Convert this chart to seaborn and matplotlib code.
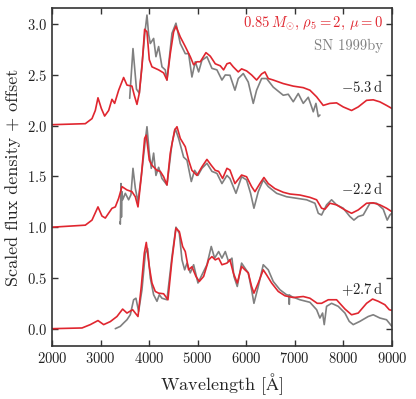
import matplotlib
matplotlib.use('Agg')
import matplotlib.pyplot as plt
import numpy as np
import pandas as pd
import seaborn as sns

# spectra: (wavelength [A], scaled flux), offsets added below
model_m53 = [(2000, 0.01), (2686, 0.02), (2824, 0.07), (2892, 0.15), (2947, 0.275), (3016, 0.17),
             (3084, 0.095), (3167, 0.15), (3235, 0.26), (3290, 0.22), (3373, 0.35), (3475, 0.475),
             (3544, 0.40), (3647, 0.39), (3695, 0.30), (3750, 0.21), (3798, 0.32), (3853, 0.58),
             (3908, 0.95), (3956, 0.925), (4004, 0.65), (4059, 0.58), (4196, 0.55), (4299, 0.52),
             (4368, 0.45), (4436, 0.71), (4505, 0.925), (4553, 0.98), (4642, 0.875), (4745, 0.78),
             (4848, 0.68), (4917, 0.60), (4985, 0.63), (5054, 0.63), (5171, 0.72), (5260, 0.685),
             (5363, 0.61), (5466, 0.59), (5534, 0.55), (5603, 0.61), (5665, 0.62), (5733, 0.58),
             (5836, 0.53), (5905, 0.56), (6008, 0.54), (6111, 0.50), (6214, 0.45), (6317, 0.51),
             (6385, 0.53), (6454, 0.465), (6557, 0.45), (6763, 0.415), (6969, 0.39), (7175, 0.375),
             (7312, 0.35), (7449, 0.285), (7586, 0.20), (7723, 0.22), (7861, 0.225), (7998, 0.185),
             (8170, 0.15), (8307, 0.185), (8479, 0.25), (8616, 0.255), (8753, 0.235), (8890, 0.20),
             (9000, 0.17)]
obs_m53 = [(3600, 0.27), (3668, 0.76), (3740, 0.36), (3798, 0.32), (3853, 0.60), (3910, 0.90),
           (3956, 1.09), (3990, 0.90), (4025, 0.81), (4093, 0.86), (4141, 0.68), (4196, 0.78),
           (4265, 0.58), (4333, 0.55), (4368, 0.45), (4471, 0.91), (4553, 1.01), (4642, 0.81),
           (4745, 0.71), (4814, 0.71), (4882, 0.48), (4951, 0.63), (5020, 0.53), (5088, 0.645),
           (5191, 0.68), (5294, 0.565), (5397, 0.55), (5500, 0.45), (5569, 0.50), (5665, 0.497),
           (5768, 0.35), (5837, 0.465), (5940, 0.514), (6042, 0.43), (6145, 0.22), (6214, 0.35),
           (6317, 0.465), (6420, 0.465), (6557, 0.38), (6763, 0.30), (6866, 0.31), (6969, 0.236),
           (7072, 0.317), (7175, 0.22), (7278, 0.28), (7347, 0.186), (7381, 0.137), (7436, 0.22),
           (7484, 0.09), (7518, 0.105)]

model_m22 = [(2000, 0.0), (2686, 0.02), (2824, 0.07), (2947, 0.20), (3029, 0.11), (3098, 0.09),
             (3235, 0.186), (3304, 0.20), (3373, 0.285), (3441, 0.40), (3544, 0.367), (3647, 0.35),
             (3716, 0.30), (3771, 0.20), (3839, 0.497), (3908, 0.875), (3942, 0.907), (4004, 0.66),
             (4059, 0.61), (4162, 0.56), (4230, 0.55), (4299, 0.497), (4368, 0.416), (4436, 0.73),
             (4526, 0.957), (4574, 0.99), (4642, 0.875), (4745, 0.793), (4814, 0.66), (4882, 0.56),
             (4985, 0.51), (5088, 0.595), (5191, 0.668), (5280, 0.61), (5363, 0.56), (5432, 0.55),
             (5514, 0.48), (5603, 0.58), (5665, 0.563), (5768, 0.43), (5905, 0.514), (6008, 0.497),
             (6111, 0.40), (6180, 0.35), (6282, 0.43), (6365, 0.49), (6454, 0.43), (6591, 0.38),
             (6763, 0.344), (6900, 0.327), (7106, 0.317), (7312, 0.294), (7450, 0.27), (7552, 0.187),
             (7621, 0.177), (7724, 0.236), (7861, 0.22), (8033, 0.17), (8170, 0.137), (8307, 0.17),
             (8479, 0.236), (8616, 0.24), (8753, 0.22), (8890, 0.187), (9000, 0.153)]
obs_m22 = [(3400, 0.05), (3407, 0.03), (3421, 0.43), (3430, 0.10), (3440, 0.35), (3455, 0.27),
           (3510, 0.334), (3578, 0.27), (3626, 0.32), (3668, 0.58), (3716, 0.384), (3771, 0.25),
           (3853, 0.56), (3922, 0.86), (3956, 0.99), (4004, 0.73), (4045, 0.58), (4093, 0.73),
           (4141, 0.51), (4196, 0.59), (4265, 0.48), (4368, 0.416), (4471, 0.825), (4540, 0.97),
           (4608, 0.875), (4711, 0.69), (4780, 0.66), (4869, 0.45), (4937, 0.56), (5006, 0.51),
           (5088, 0.58), (5191, 0.63), (5294, 0.55), (5397, 0.53), (5500, 0.43), (5603, 0.51),
           (5665, 0.48), (5789, 0.334), (5905, 0.497), (6008, 0.465), (6090, 0.334), (6159, 0.187),
           (6248, 0.35), (6351, 0.465), (6454, 0.40), (6626, 0.334), (6832, 0.30), (7038, 0.285),
           (7244, 0.27), (7415, 0.236), (7484, 0.137), (7552, 0.12), (7655, 0.22), (7758, 0.27),
           (7861, 0.22), (7998, 0.187), (8136, 0.105), (8218, 0.07), (8307, 0.105), (8410, 0.12),
           (8548, 0.236), (8685, 0.236), (8822, 0.177), (8904, 0.07), (8959, 0.12), (9000, 0.137)]

model_p27 = [(2000, 0.0), (2618, 0.007), (2789, 0.04), (2947, 0.08), (3064, 0.04), (3201, 0.07),
             (3338, 0.12), (3455, 0.193), (3544, 0.154), (3661, 0.187), (3771, 0.12), (3839, 0.416),
             (3901, 0.744), (3942, 0.85), (4004, 0.61), (4059, 0.45), (4127, 0.367), (4196, 0.35),
             (4299, 0.344), (4388, 0.285), (4471, 0.678), (4553, 0.99), (4622, 0.957), (4690, 0.81),
             (4745, 0.76), (4814, 0.58), (4882, 0.61), (4965, 0.515), (5033, 0.465), (5123, 0.515),
             (5226, 0.678), (5294, 0.71), (5363, 0.678), (5432, 0.695), (5500, 0.63), (5603, 0.646),
             (5665, 0.68), (5734, 0.55), (5816, 0.45), (5905, 0.613), (5974, 0.58), (6042, 0.55),
             (6111, 0.416), (6159, 0.35), (6248, 0.45), (6351, 0.58), (6420, 0.53), (6523, 0.45),
             (6660, 0.367), (6798, 0.324), (6969, 0.307), (7175, 0.317), (7312, 0.30), (7463, 0.25),
             (7552, 0.25), (7690, 0.285), (7861, 0.285), (8033, 0.194), (8170, 0.137), (8307, 0.154),
             (8479, 0.25), (8602, 0.292), (8719, 0.27), (8856, 0.236), (8946, 0.187), (9000, 0.18)]
obs_p27 = [(3304, 0.0), (3407, 0.023), (3475, 0.056), (3544, 0.088), (3613, 0.138), (3681, 0.285),
           (3729, 0.30), (3784, 0.17), (3853, 0.384), (3922, 0.744), (3970, 0.79), (4025, 0.50),
           (4093, 0.334), (4162, 0.27), (4210, 0.334), (4265, 0.30), (4368, 0.285), (4471, 0.71),
           (4553, 1.0), (4622, 0.94), (4677, 0.678), (4732, 0.58), (4780, 0.646), (4848, 0.55),
           (4917, 0.63), (5006, 0.45), (5088, 0.53), (5191, 0.63), (5280, 0.81), (5349, 0.695),
           (5432, 0.76), (5500, 0.695), (5569, 0.76), (5637, 0.66), (5706, 0.695), (5747, 0.515),
           (5816, 0.416), (5905, 0.646), (5974, 0.597), (6042, 0.55), (6111, 0.384), (6159, 0.25),
           (6248, 0.416), (6351, 0.63), (6454, 0.58), (6557, 0.465), (6694, 0.384), (6832, 0.334),
           (6880, 0.33), (6887, 0.24), (6895, 0.33), (6935, 0.317), (7106, 0.285), (7312, 0.26),
           (7450, 0.187), (7518, 0.105), (7573, 0.154), (7607, 0.04), (7655, 0.22), (7758, 0.25),
           (7895, 0.22), (8033, 0.154), (8122, 0.072), (8204, 0.04), (8341, 0.072), (8513, 0.12),
           (8616, 0.137), (8753, 0.105), (8890, 0.088), (9000, 0.023)]

phases = [r'$-5.3\,$d', r'$-2.2\,$d', r'$+2.7\,$d']
offsets = [2.0, 1.0, 0.0]
label_y = [2.38, 1.38, 0.385]

red = '#e0262f'
grey = '#808080'

sns.set_theme(style='ticks')
plt.rcParams['font.family'] = 'serif'
plt.rcParams['font.serif'] = ['cmr10']
plt.rcParams['mathtext.fontset'] = 'cm'
plt.rcParams['axes.formatter.use_mathtext'] = True
plt.rcParams['axes.unicode_minus'] = True

fig = plt.figure(figsize=(4.16, 3.99), dpi=100)
ax = fig.add_axes([0.125, 0.133, 0.817, 0.847])

pairs = [(model_m53, obs_m53), (model_m22, obs_m22), (model_p27, obs_p27)]
for (model, obs), off in zip(pairs, offsets):
    o = pd.DataFrame(obs, columns=['wl', 'flux'])
    m = pd.DataFrame(model, columns=['wl', 'flux'])
    sns.lineplot(x=o.wl, y=o.flux + off, color=grey, lw=1.2, sort=False, estimator=None, ax=ax)
    sns.lineplot(x=m.wl, y=m.flux + off, color=red, lw=1.2, sort=False, estimator=None, ax=ax)

for lab, yy in zip(phases, label_y):
    ax.text(8820, yy, lab, ha='right', va='center', fontsize=10.5, color='#222222')

ax.text(8820, 3.01, r'$0.85\,M_{\odot}$, $\rho_5 = 2$, $\mu = 0$', ha='right', va='center',
        fontsize=10.5, color=red)
ax.text(8820, 2.79, 'SN 1999by', ha='right', va='center', fontsize=10.5, color=grey)

ax.set_xlim(2000, 9000)
ax.set_ylim(-0.17, 3.16)
ax.set_xticks(np.arange(2000, 9001, 1000))
ax.set_yticks(np.arange(0, 3.01, 0.5))
ax.set_xlabel(r'Wavelength [$\mathrm{\AA}$]', fontsize=13)
ax.set_ylabel('Scaled flux density + offset', fontsize=13)
ax.tick_params(direction='in', top=True, right=True, length=4, width=1, labelsize=10.5,
               colors='#333333', labelcolor='#222222')
for s in ax.spines.values():
    s.set_linewidth(1.2)
    s.set_color('#333333')

fig.savefig('out.png', dpi=100)
